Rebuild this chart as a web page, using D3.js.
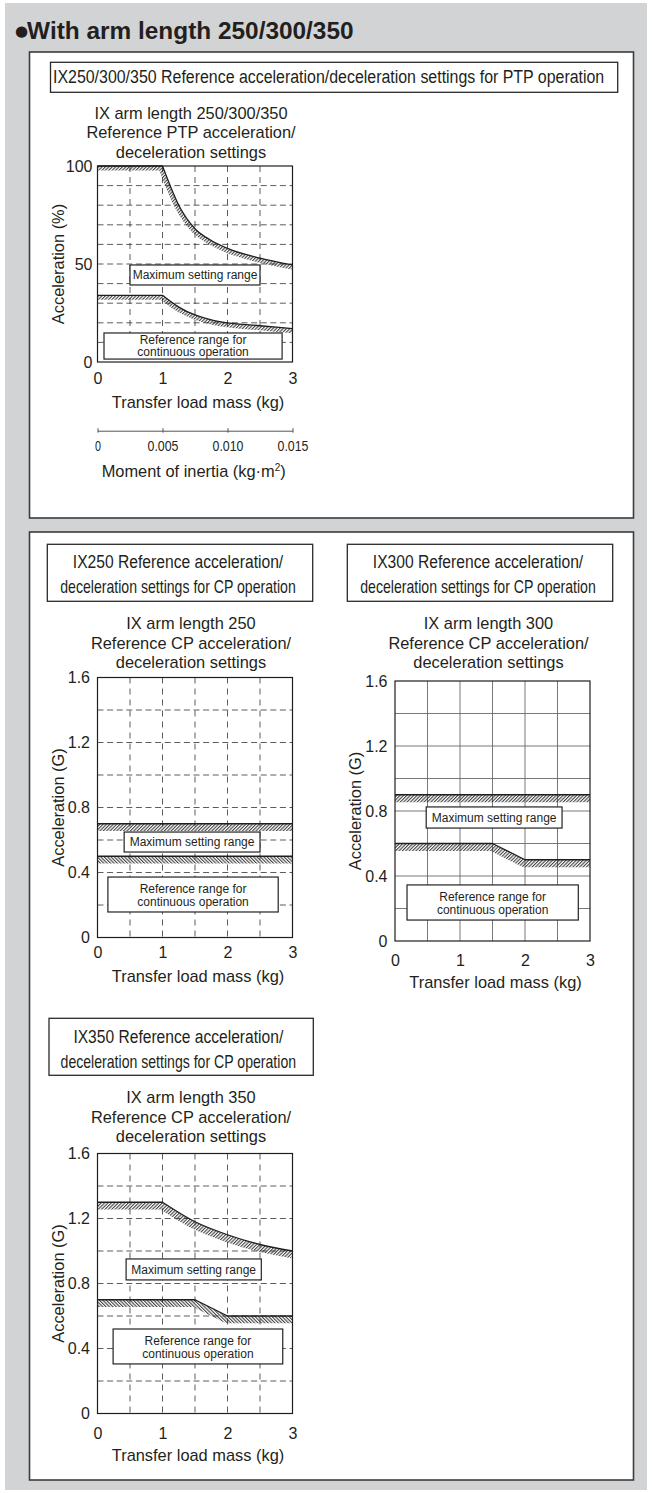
<!DOCTYPE html>
<html><head><meta charset="utf-8">
<script src="https://cdn.jsdelivr.net/npm/d3@7/dist/d3.min.js"></script>
<style>body{margin:0;background:#fff} svg{display:block}</style>
</head><body>
<svg id="c" width="652" height="1493"></svg>
<script>
// ---------------- data ----------------
const massTicks = [0, 1, 2, 3];
const ptpYTicks = [0, 50, 100];
const cpYTicks = [0, 0.4, 0.8, 1.2, 1.6];
const inertiaTicks = [0, 0.005, 0.010, 0.015];
const inertiaTickLabels = ["0", "0.005", "0.010", "0.015"];

const ptpMaxMass = [0, 1, 1.25, 1.5, 1.75, 2, 2.5, 3];
const ptpMaxAccel = [100, 100, 80, 68, 62, 58, 53, 49.5];
const ptpContMass = [0, 1, 1.25, 1.5, 1.75, 2, 2.5, 3];
const ptpContAccel = [34, 34, 28, 24, 21.5, 20, 18.5, 17];

const ix250MaxMass = [0, 3];
const ix250MaxAccel = [0.7, 0.7];
const ix250ContMass = [0, 3];
const ix250ContAccel = [0.5, 0.5];

const ix300MaxMass = [0, 3];
const ix300MaxAccel = [0.9, 0.9];
const ix300ContMass = [0, 1.5, 2, 3];
const ix300ContAccel = [0.6, 0.6, 0.5, 0.5];

const ix350MaxMass = [0, 1, 1.5, 2, 2.5, 3];
const ix350MaxAccel = [1.3, 1.3, 1.18, 1.1, 1.04, 1.0];
const ix350ContMass = [0, 1.5, 2, 3];
const ix350ContAccel = [0.7, 0.7, 0.6, 0.6];

const maxLabel = "Maximum setting range";
const contLabel = ["Reference range for", "continuous operation"];

// ---------------- setup ----------------
const FONT = "'Liberation Sans', Arial, Helvetica, sans-serif";
const NARROW = "'Liberation Sans Narrow', 'Arial Narrow', 'Liberation Sans', Arial, sans-serif";
const INK = "#231f20";
const svg = d3.select("#c");
svg.append("rect").attr("x", 0).attr("y", 0).attr("width", 652).attr("height", 1493).attr("fill", "#fff");
svg.append("rect").attr("x", 5).attr("y", 3).attr("width", 642).attr("height", 1487).attr("fill", "#d2d3d5");

const defs = svg.append("defs");
function hatch(id, angle) {
  const p = defs.append("pattern").attr("id", id).attr("patternUnits", "userSpaceOnUse")
    .attr("width", 2.4).attr("height", 4).attr("patternTransform", `rotate(${angle})`);
  p.append("line").attr("x1", 0.6).attr("y1", 0).attr("x2", 0.6).attr("y2", 4)
    .attr("stroke", "#222").attr("stroke-width", 0.95);
}
hatch("hf", 45);
hatch("hb", -45);

// panels
[[52, 518], [532, 1480]].forEach(([t, b]) => {
  svg.append("rect").attr("x", 29.5).attr("y", t).attr("width", 604).attr("height", b - t)
    .attr("fill", "#fff").attr("stroke", "#3c3c3c").attr("stroke-width", 1.6);
});

// main title
const mt = svg.append("text").attr("x", 15).attr("y", 39).attr("fill", INK)
  .attr("font-family", FONT).attr("font-weight", "bold");
mt.append("tspan").attr("font-size", 15).attr("font-family", "'DejaVu Sans', sans-serif").attr("dy", -3.5).text("●");
mt.append("tspan").attr("font-size", 24.4).attr("dx", -1).attr("dy", 3.5).text("With arm length 250/300/350");

// narrow text: rendered then squeezed horizontally to the measured width
function narrowText(parent, cx, base, anchor, size, width, str) {
  const t = parent.append("text").attr("x", 0).attr("y", 0).attr("text-anchor", anchor)
    .attr("font-family", NARROW).attr("font-size", size).attr("fill", INK).text(str);
  const w = t.node().getComputedTextLength();
  const sx = width / w;
  t.attr("transform", `translate(${cx},${base}) scale(${sx},1)`);
  return t;
}

// caption boxes
function caption(c) {
  svg.append("rect").attr("x", c.x0).attr("y", c.y0).attr("width", c.x1 - c.x0).attr("height", c.h)
    .attr("fill", "#fff").attr("stroke", "#2a2a2a").attr("stroke-width", 1.3);
  c.lines.forEach((l, i) => narrowText(svg, c.tx, c.y0 + c.base[i], c.anchor, 19, c.len[i], l));
}
caption({x0: 50.5, x1: 617.7, y0: 62.3, h: 30, tx: 53, anchor: "start", base: [21], len: [552],
  lines: ["IX250/300/350 Reference acceleration/deceleration settings for PTP operation"]});
caption({x0: 47.3, x1: 312.7, y0: 544.3, h: 57, tx: 178, anchor: "middle", base: [23.5, 49], len: [210.6, 235.7],
  lines: ["IX250 Reference acceleration/", "deceleration settings for CP operation"]});
caption({x0: 347.3, x1: 612.7, y0: 544.3, h: 57, tx: 478, anchor: "middle", base: [23.5, 49], len: [210.6, 235.7],
  lines: ["IX300 Reference acceleration/", "deceleration settings for CP operation"]});
caption({x0: 49, x1: 313.3, y0: 1018.3, h: 57, tx: 178.3, anchor: "middle", base: [24.5, 50], len: [210, 235.7],
  lines: ["IX350 Reference acceleration/", "deceleration settings for CP operation"]});

// ---------------- charts ----------------
let clipId = 0;
function pathFor(pts, corner) {
  if (corner == null) return d3.line().curve(d3.curveLinear)(pts);
  const a = d3.line().curve(d3.curveLinear)(pts.slice(0, corner + 1));
  const b = d3.line().curve(d3.curveMonotoneX)(pts.slice(corner));
  return a + b.replace(/^M[^LC]*/, "");
}

function drawChart(cfg) {
  const g = svg.append("g");
  const L = cfg.left, T = cfg.top, R = cfg.left + cfg.w, B = cfg.top + cfg.h;
  const x = d3.scaleLinear().domain([0, 3]).range([L, R]);
  const y = d3.scaleLinear().domain([0, cfg.yMax]).range([B, T]);

  // grid
  const nY = Math.round(cfg.yMax / cfg.gridStep);
  const gyVals = d3.range(1, nY).map(i => i * cfg.gridStep);
  const gxVals = d3.range(1, 6).map(i => i * 0.5);
  const grid = g.append("g").attr("stroke", cfg.solidGrid ? "#6a6a6a" : "#333")
    .attr("stroke-width", cfg.solidGrid ? 0.9 : 0.8);
  grid.selectAll("line.h").data(gyVals).join("line")
    .attr("x1", L).attr("x2", R).attr("y1", d => y(d)).attr("y2", d => y(d))
    .attr("stroke-dasharray", cfg.solidGrid ? null : "6,3.6");
  grid.selectAll("line.v").data(gxVals).join("line")
    .attr("y1", T).attr("y2", B).attr("x1", d => x(d)).attr("x2", d => x(d))
    .attr("stroke-dasharray", cfg.solidGrid ? null : "6,5");

  // series
  cfg.series.forEach(s => {
    const pts = s.mass.map((m, i) => [x(m), y(s.accel[i])]);
    const d = pathFor(pts, s.corner);
    const id = "clip" + (clipId++);
    defs.append("clipPath").attr("id", id).append("path")
      .attr("d", d + `L${x(3)},${B}L${x(0)},${B}Z`);
    g.append("path").attr("d", d).attr("fill", "none").attr("stroke", `url(#${s.hatch})`)
      .attr("stroke-width", cfg.band * 2).attr("stroke-linejoin", "round")
      .attr("clip-path", `url(#${id})`);
    g.append("path").attr("d", d).attr("fill", "none").attr("stroke", "#1e1e1e")
      .attr("stroke-width", 1.3).attr("stroke-linejoin", "round");
  });

  // label boxes
  cfg.boxes.forEach(b => {
    const bx0 = x(b.x0), bx1 = x(b.x1), by0 = y(b.y1), by1 = y(b.y0);
    g.append("rect").attr("x", bx0).attr("y", by0).attr("width", bx1 - bx0).attr("height", by1 - by0)
      .attr("fill", "#fff").attr("stroke", "#222").attr("stroke-width", 1.2);
    const cx = (bx0 + bx1) / 2, cy = (by0 + by1) / 2;
    b.lines.forEach((l, i) => {
      g.append("text").attr("x", cx).attr("y", cy + b.base[i]).attr("text-anchor", "middle")
        .attr("font-family", FONT).attr("font-size", 12).attr("fill", INK).text(l);
    });
  });

  // border
  g.append("rect").attr("x", L).attr("y", T).attr("width", cfg.w).attr("height", cfg.h)
    .attr("fill", "none").attr("stroke", "#1e1e1e").attr("stroke-width", 1.2);

  // axes
  const ya = g.append("g").attr("transform", `translate(${L},0)`)
    .call(d3.axisLeft(y).tickValues(cfg.yTicks).tickSize(0).tickPadding(cfg.yPad)
      .tickFormat(cfg.yFmt));
  const xa = g.append("g").attr("transform", `translate(0,${B})`)
    .call(d3.axisBottom(x).tickValues(massTicks).tickSize(0).tickPadding(cfg.xPad)
      .tickFormat(d3.format("d")));
  [ya, xa].forEach(a => {
    a.select(".domain").remove();
    a.selectAll("text").attr("font-family", FONT).attr("font-size", 16).attr("fill", INK);
  });

  // titles
  cfg.title.forEach((t, i) => {
    g.append("text").attr("x", (L + R) / 2 - 4).attr("y", cfg.titleBase[i]).attr("text-anchor", "middle")
      .attr("font-family", FONT).attr("font-size", 16.4).attr("fill", INK).text(t);
  });
  g.append("text").attr("x", (L + R) / 2 + 3).attr("y", B + cfg.xTitleOff).attr("text-anchor", "middle")
    .attr("font-family", FONT).attr("font-size", 16.4).attr("fill", INK).text("Transfer load mass (kg)");
  g.append("text").attr("transform", `translate(${L - 39.5},${(T + B) / 2}) rotate(-90)`)
    .attr("text-anchor", "middle").attr("dy", "0.35em")
    .attr("font-family", FONT).attr("font-size", 16.4).attr("fill", INK).text(cfg.yTitle);
  return {x, y};
}

const cpFmt = d => d === 0 ? "0" : d3.format(".1f")(d);

drawChart({
  left: 97.5, top: 166, w: 195, h: 196, yMax: 100, gridStep: 10, solidGrid: false,
  yTicks: ptpYTicks, yFmt: d3.format("d"), yPad: 5, xPad: 10.6, xTitleOff: 46.3, band: 4.5,
  yTitle: "Acceleration (%)",
  title: ["IX arm length 250/300/350", "Reference PTP acceleration/", "deceleration settings"],
  titleBase: [118.5, 138, 157.5],
  series: [
    {mass: ptpMaxMass, accel: ptpMaxAccel, corner: 1, hatch: "hf"},
    {mass: ptpContMass, accel: ptpContAccel, corner: 1, hatch: "hf"}
  ],
  boxes: [
    {x0: 0.5, x1: 2.5, y0: 39.3, y1: 49.5, lines: [maxLabel], base: [4.3]},
    {x0: 0.1, x1: 2.84, y0: 1.5, y1: 14.8, lines: contLabel, base: [-1.8, 9.6]}
  ]
});

drawChart({
  left: 97.5, top: 677.5, w: 195, h: 260, yMax: 1.6, gridStep: 0.2, solidGrid: false,
  yTicks: cpYTicks, yFmt: cpFmt, yPad: 7.5, xPad: 9.6, xTitleOff: 44, band: 7.3,
  yTitle: "Acceleration (G)",
  title: ["IX arm length 250", "Reference CP acceleration/", "deceleration settings"],
  titleBase: [629.3, 648.8, 668],
  series: [
    {mass: ix250MaxMass, accel: ix250MaxAccel, corner: null, hatch: "hf"},
    {mass: ix250ContMass, accel: ix250ContAccel, corner: null, hatch: "hb"}
  ],
  boxes: [
    {x0: 0.41, x1: 2.5, y0: 0.526, y1: 0.649, lines: [maxLabel], base: [4.3]},
    {x0: 0.16, x1: 2.78, y0: 0.157, y1: 0.372, lines: contLabel, base: [-1.5, 11.5]}
  ]
});

drawChart({
  left: 395, top: 681, w: 195, h: 260, yMax: 1.6, gridStep: 0.2, solidGrid: true,
  yTicks: cpYTicks, yFmt: cpFmt, yPad: 7.5, xPad: 14.1, xTitleOff: 47, band: 7.5,
  yTitle: "Acceleration (G)",
  title: ["IX arm length 300", "Reference CP acceleration/", "deceleration settings"],
  titleBase: [629.3, 648.8, 668],
  series: [
    {mass: ix300MaxMass, accel: ix300MaxAccel, corner: null, hatch: "hf"},
    {mass: ix300ContMass, accel: ix300ContAccel, corner: null, hatch: "hf"}
  ],
  boxes: [
    {x0: 0.48, x1: 2.57, y0: 0.695, y1: 0.825, lines: [maxLabel], base: [4.3]},
    {x0: 0.185, x1: 2.82, y0: 0.129, y1: 0.345, lines: contLabel, base: [-1.5, 11.5]}
  ]
});

drawChart({
  left: 97.5, top: 1153.5, w: 195, h: 260, yMax: 1.6, gridStep: 0.2, solidGrid: false,
  yTicks: cpYTicks, yFmt: cpFmt, yPad: 7.5, xPad: 14.4, xTitleOff: 47.2, band: 7.3,
  yTitle: "Acceleration (G)",
  title: ["IX arm length 350", "Reference CP acceleration/", "deceleration settings"],
  titleBase: [1103, 1122.5, 1142],
  series: [
    {mass: ix350MaxMass, accel: ix350MaxAccel, corner: 1, hatch: "hf"},
    {mass: ix350ContMass, accel: ix350ContAccel, corner: null, hatch: "hb"}
  ],
  boxes: [
    {x0: 0.44, x1: 2.52, y0: 0.822, y1: 0.951, lines: [maxLabel], base: [4.3]},
    {x0: 0.24, x1: 2.85, y0: 0.305, y1: 0.52, lines: contLabel, base: [-1.5, 11.5]}
  ]
});

// moment of inertia axis (PTP chart)
const xi = d3.scaleLinear().domain([0, 0.015]).range([97.5, 292.5]);
const ia = svg.append("g").attr("transform", "translate(0,430.7)")
  .call(d3.axisBottom(xi).tickValues(inertiaTicks).tickSizeInner(2.2).tickSizeOuter(0)
    .tickFormat((d, i) => inertiaTickLabels[i]));
ia.select(".domain").attr("stroke", "#555").attr("stroke-width", 1);
ia.selectAll(".tick line").attr("y1", -2.5).attr("y2", 2).attr("stroke", "#555");
ia.selectAll(".tick text").remove();
ia.selectAll(".tick").each(function(d, i) {
  const lab = inertiaTickLabels[i];
  narrowText(d3.select(this), 0, 20, "middle", 15, lab.length > 1 ? 31 : 6, lab);
});
const it = svg.append("text").attr("x", 193.7).attr("y", 477).attr("text-anchor", "middle")
  .attr("font-family", FONT).attr("font-size", 16.4).attr("fill", INK);
it.append("tspan").text("Moment of inertia (kg·m");
it.append("tspan").attr("font-size", 10).attr("dy", -6).text("2");
it.append("tspan").attr("dy", 6).text(")");
</script>
</body></html>
